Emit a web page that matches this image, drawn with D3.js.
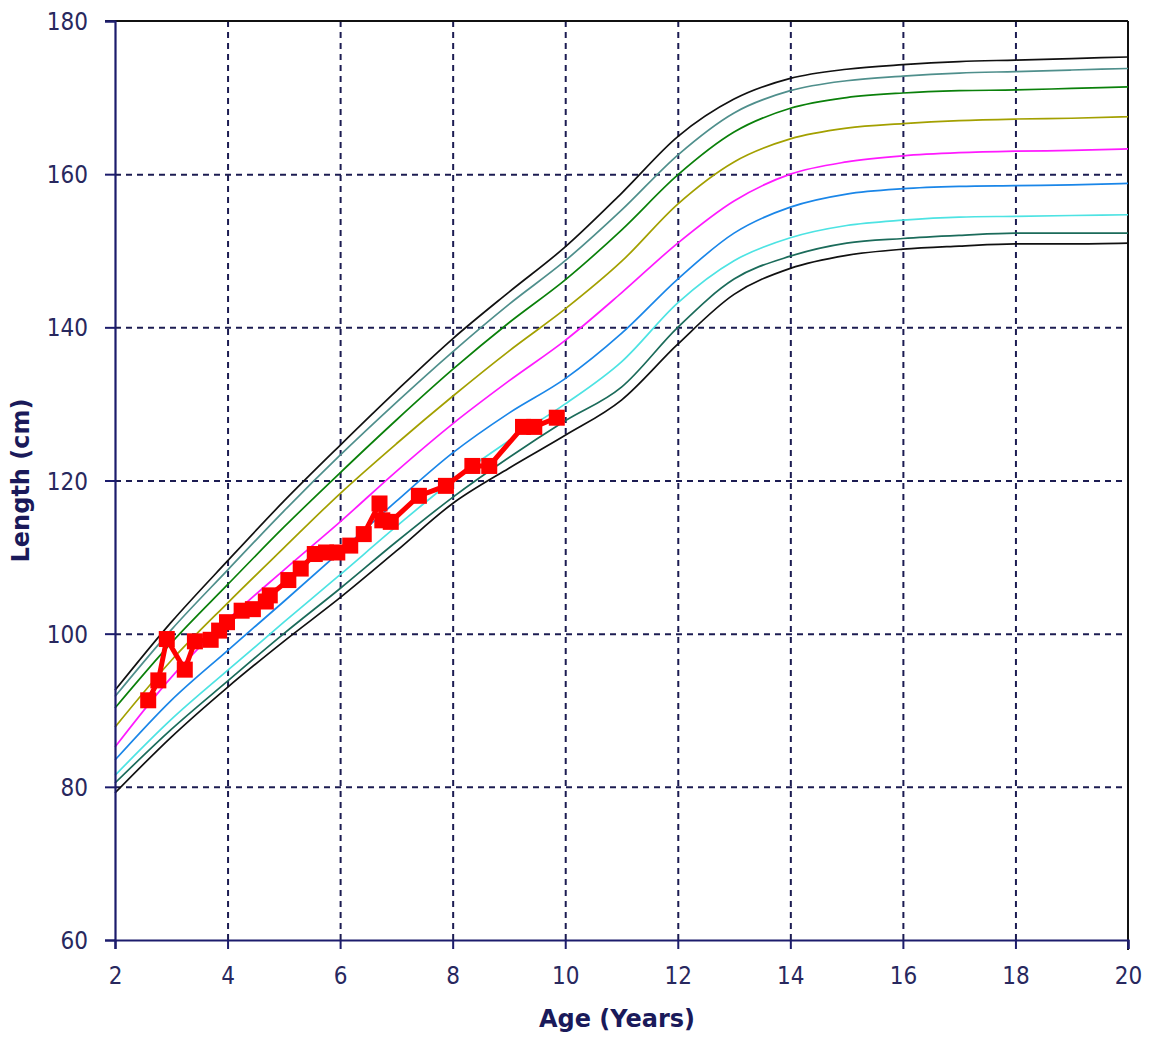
<!DOCTYPE html>
<html>
<head>
<meta charset="utf-8">
<script src="https://cdn.jsdelivr.net/npm/d3@7"></script>
<style>
  body { margin: 0; background: #fff; }
  .tick text { font-family: "DejaVu Sans Condensed", "DejaVu Sans", sans-serif; font-size: 24px; fill: #28285e; font-stretch: condensed; }
  .grid line { stroke: #1c1c52; stroke-width: 2; stroke-dasharray: 6,5; }
  .grid .domain { display: none; }
</style>
</head>
<body>
<div id="chart"></div>
<script>
// percentile curves (length in cm per year of age)
const AGES = [2, 3, 4, 5, 6, 7, 8, 9, 10, 11, 12, 13, 14, 15, 16, 17, 18, 19, 20];
const P97 = [92.6, 101.5, 109.5, 117.3, 124.6, 131.7, 138.5, 144.6, 150.5, 157.5, 164.9, 169.8, 172.5, 173.7, 174.3, 174.7, 174.9, 175.1, 175.3];
const P95 = [91.8, 100.5, 108.3, 116.0, 123.3, 130.2, 136.8, 143.0, 148.7, 155.3, 162.5, 168.0, 170.9, 172.2, 172.8, 173.2, 173.4, 173.6, 173.8];
const P90 = [90.3, 98.8, 106.4, 113.9, 121.0, 127.9, 134.5, 140.6, 146.2, 152.7, 159.9, 165.5, 168.6, 170.0, 170.6, 170.9, 171.0, 171.2, 171.4];
const P75 = [87.8, 96.5, 104.0, 111.2, 118.3, 124.8, 131.0, 136.9, 142.4, 148.6, 156.1, 161.6, 164.6, 166.0, 166.6, 167.0, 167.2, 167.3, 167.5];
const P50 = [85.2, 94.3, 101.8, 108.3, 114.6, 121.2, 127.4, 133.0, 138.3, 144.5, 151.0, 156.5, 160.0, 161.6, 162.4, 162.8, 163.0, 163.1, 163.3];
const P25 = [83.5, 91.3, 97.8, 104.2, 110.7, 117.3, 123.6, 128.8, 133.3, 139.2, 146.3, 152.3, 155.7, 157.4, 158.1, 158.4, 158.5, 158.6, 158.8];
const P10 = [81.5, 88.8, 95.2, 101.5, 107.7, 114.0, 120.0, 125.2, 130.0, 135.5, 143.2, 148.7, 151.7, 153.3, 154.0, 154.4, 154.5, 154.6, 154.7];
const P05 = [80.5, 87.5, 93.8, 100.0, 105.9, 112.0, 117.8, 123.0, 127.8, 132.2, 140.0, 146.3, 149.3, 151.0, 151.6, 152.0, 152.3, 152.3, 152.3];
const P03 = [79.2, 86.5, 93.0, 99.0, 104.7, 110.8, 117.0, 121.6, 125.9, 130.5, 137.8, 144.3, 147.7, 149.4, 150.2, 150.6, 150.9, 150.9, 151.0];

// the child's measurements
const PATIENT_AGE    = [2.59, 2.77, 2.92, 3.24, 3.42, 3.70, 3.85, 3.99, 4.25, 4.45, 4.68, 4.75, 5.08, 5.30, 5.55, 5.75, 5.95, 6.18, 6.42, 6.70, 6.75, 6.90, 7.40, 7.88, 8.35, 8.65, 9.25, 9.45, 9.85];
const PATIENT_LENGTH = [91.3, 93.9, 99.3, 95.3, 99.0, 99.2, 100.4, 101.5, 103.0, 103.2, 104.2, 105.0, 107.0, 108.5, 110.4, 110.6, 110.6, 111.5, 113.0, 117.0, 114.8, 114.6, 118.0, 119.3, 121.9, 121.9, 127.0, 127.0, 128.2];

const X_TICKS = [2, 4, 6, 8, 10, 12, 14, 16, 18, 20];
const Y_TICKS = [60, 80, 100, 120, 140, 160, 180];

// styles
const CURVES = [
  { values: P97, color: "#111111" },
  { values: P95, color: "#4f8f8c" },
  { values: P90, color: "#0a800a" },
  { values: P75, color: "#a3a000" },
  { values: P50, color: "#ff1aff" },
  { values: P25, color: "#1a86e8" },
  { values: P10, color: "#4de3e3" },
  { values: P05, color: "#1b6b5a" },
  { values: P03, color: "#111111" }
];
const NAVY = "#1c1c6c";
const RED = "#ff0000";

const W = 1149, H = 1040;
const plot = { left: 115, right: 1128, top: 21, bottom: 940 };

const svg = d3.select("#chart").append("svg")
  .attr("width", W).attr("height", H)
  .style("background", "#fff");

const x = d3.scaleLinear().domain([2, 20]).range([plot.left, plot.right]);
const y = d3.scaleLinear().domain([60, 180]).range([plot.bottom, plot.top]);

// grid
svg.append("g").attr("class", "grid")
  .attr("transform", `translate(0,${plot.bottom})`)
  .call(d3.axisBottom(x).tickValues(X_TICKS.slice(1, -1)).tickSize(-(plot.bottom - plot.top)).tickFormat(""));
svg.append("g").attr("class", "grid")
  .attr("transform", `translate(${plot.left},0)`)
  .call(d3.axisLeft(y).tickValues(Y_TICKS.slice(1, -1)).tickSize(-(plot.right - plot.left)).tickFormat(""));

// plot border top / right
svg.append("line").attr("x1", plot.left - 10).attr("x2", plot.right).attr("y1", y(180)).attr("y2", y(180))
  .attr("stroke", "#111").attr("stroke-width", 2);
svg.append("line").attr("x1", plot.right).attr("x2", plot.right).attr("y1", plot.top).attr("y2", plot.bottom + 10)
  .attr("stroke", "#111").attr("stroke-width", 2);

// percentile curves
const line = d3.line().x((d, i) => x(AGES[i])).y(d => y(d)).curve(d3.curveMonotoneX);
svg.append("g").selectAll("path").data(CURVES).join("path")
  .attr("d", d => line(d.values))
  .attr("fill", "none")
  .attr("stroke", d => d.color)
  .attr("stroke-width", 1.7);

// axes
const xAxis = svg.append("g")
  .attr("transform", `translate(0,${plot.bottom})`)
  .call(d3.axisBottom(x).tickValues(X_TICKS).tickSize(9).tickPadding(18));
const yAxis = svg.append("g")
  .attr("transform", `translate(${plot.left},0)`)
  .call(d3.axisLeft(y).tickValues(Y_TICKS).tickSize(10).tickPadding(17));
[xAxis, yAxis].forEach(a => {
  a.select(".domain").attr("stroke", NAVY).attr("stroke-width", 2.2);
  a.selectAll(".tick line").attr("stroke", NAVY).attr("stroke-width", 2);
});
yAxis.selectAll(".tick text").attr("dy", "0.36em");

// patient series
const pts = PATIENT_AGE.map((a, i) => [a, PATIENT_LENGTH[i]]);
svg.append("path")
  .attr("d", d3.line().x(d => x(d[0])).y(d => y(d[1]))(pts))
  .attr("fill", "none").attr("stroke", RED).attr("stroke-width", 5).attr("stroke-linejoin", "round");
const sq = 16;
svg.append("g").selectAll("rect").data(pts).join("rect")
  .attr("x", d => x(d[0]) - sq / 2).attr("y", d => y(d[1]) - sq / 2)
  .attr("width", sq).attr("height", sq).attr("fill", RED);

// axis titles
svg.append("text")
  .attr("transform", `translate(29,${(plot.top + plot.bottom) / 2}) rotate(-90)`)
  .attr("text-anchor", "middle")
  .style("font-family", "'DejaVu Sans', sans-serif").style("font-weight", "bold").style("font-size", "24px")
  .style("fill", "#1a1a5a")
  .text("Length (cm)");
svg.append("text")
  .attr("x", 617).attr("y", 1027)
  .attr("text-anchor", "middle")
  .style("font-family", "'DejaVu Sans', sans-serif").style("font-weight", "bold").style("font-size", "24px")
  .style("fill", "#1a1a5a")
  .text("Age (Years)");
</script>
</body>
</html>
